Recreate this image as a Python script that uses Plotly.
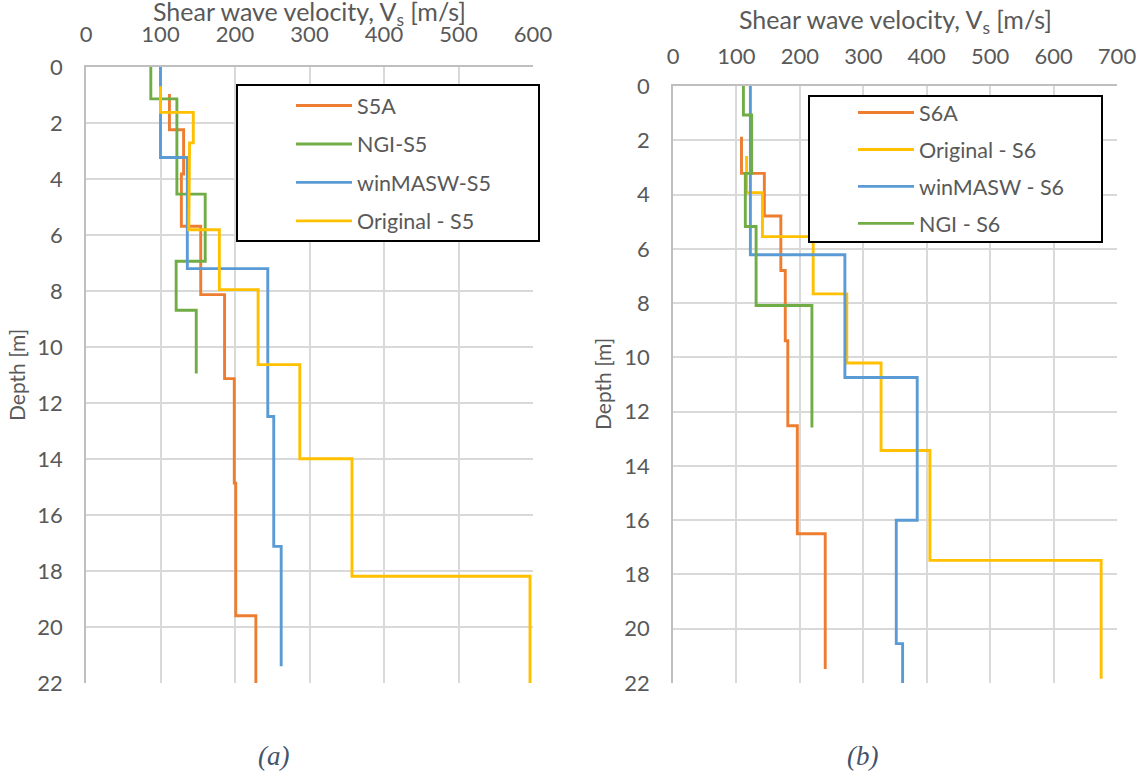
import plotly.graph_objects as go

# ---------------- data (layer top, layer bottom, velocity) ----------------
# Panel (a)
s5a_top = [0.96, 2.24, 3.82, 5.69, 8.13, 11.13, 14.86, 19.6]
s5a_bot = [2.24, 3.82, 5.69, 8.13, 11.13, 14.86, 19.6, 22.0]
s5a_vs = [112, 131, 128, 154, 186, 199, 201, 228]

ngi5_top = [0.0, 1.14, 4.54, 6.94, 8.69]
ngi5_bot = [1.14, 4.54, 6.94, 8.69, 10.95]
ngi5_vs = [87, 122, 160, 121, 148]

win5_top = [0.0, 3.23, 7.2, 12.48, 17.12]
win5_bot = [3.23, 7.2, 12.48, 17.12, 21.4]
win5_vs = [100, 136, 244, 252, 262]

orig5_top = [0.69, 1.62, 2.71, 4.11, 5.81, 7.95, 10.63, 13.99, 18.19]
orig5_bot = [1.62, 2.71, 4.11, 5.81, 7.95, 10.63, 13.99, 18.19, 22.0]
orig5_vs = [100, 144, 139, 138, 179, 231, 287, 357, 596]

# Panel (b)
s6a_top = [1.87, 3.22, 4.79, 6.8, 9.39, 12.52, 16.5]
s6a_bot = [3.22, 4.79, 6.8, 9.39, 12.52, 16.5, 21.48]
s6a_vs = [108, 144, 170, 177, 181, 196, 240]

orig6_top = [2.58, 3.93, 5.55, 7.66, 10.21, 13.43, 17.48]
orig6_bot = [3.93, 5.55, 7.66, 10.21, 13.43, 17.48, 21.84]
orig6_vs = [116, 141, 221, 274, 328, 405, 675]

win6_top = [0.0, 6.22, 10.74, 16.0, 20.55]
win6_bot = [6.22, 10.74, 16.0, 20.55, 22.0]
win6_vs = [122, 271, 385, 352, 362]

ngi6_top = [0.0, 1.07, 3.22, 5.18, 8.09]
ngi6_bot = [1.07, 3.22, 5.18, 8.09, 12.58]
ngi6_vs = [111, 124, 114, 131, 219]

x_ticks_a = [0, 100, 200, 300, 400, 500, 600]
x_ticks_b = [0, 100, 200, 300, 400, 500, 600, 700]
depth_ticks = [0, 2, 4, 6, 8, 10, 12, 14, 16, 18, 20, 22]

ORANGE, GREEN, BLUE, YELLOW = "#ED7D31", "#70AD47", "#5B9BD5", "#FFC000"
GREY_TXT = "#595959"
FONT = "Lato, 'Open Sans', sans-serif"
W, H = 1139, 773


def profile(tops, bots, vs):
    xs, ys = [], []
    for t, b, v in zip(tops, bots, vs):
        xs += [v, v]
        ys += [t, b]
    return xs, ys


fig = go.Figure()

series_a = [
    ("S5A", s5a_top, s5a_bot, s5a_vs, ORANGE),
    ("NGI-S5", ngi5_top, ngi5_bot, ngi5_vs, GREEN),
    ("winMASW-S5", win5_top, win5_bot, win5_vs, BLUE),
    ("Original - S5", orig5_top, orig5_bot, orig5_vs, YELLOW),
]
series_b = [
    ("S6A", s6a_top, s6a_bot, s6a_vs, ORANGE),
    ("Original - S6", orig6_top, orig6_bot, orig6_vs, YELLOW),
    ("winMASW - S6", win6_top, win6_bot, win6_vs, BLUE),
    ("NGI - S6", ngi6_top, ngi6_bot, ngi6_vs, GREEN),
]

for i, (name, t, b, v, c) in enumerate(series_a):
    xs, ys = profile(t, b, v)
    fig.add_trace(go.Scatter(x=xs, y=ys, mode="lines", name=name,
                             line=dict(color=c, width=2.9),
                             xaxis="x", yaxis="y", legend="legend",
                             legendgroup="a%d" % i))
for i, (name, t, b, v, c) in enumerate(series_b):
    xs, ys = profile(t, b, v)
    fig.add_trace(go.Scatter(x=xs, y=ys, mode="lines", name=name,
                             line=dict(color=c, width=2.9),
                             xaxis="x2", yaxis="y2", legend="legend2",
                             legendgroup="b%d" % i))

# plot-area pixel boxes
A = dict(l=86, r=533, t=67, b=683)
B = dict(l=673, r=1117, t=86, b=683)


def dom_x(box):
    return [box["l"] / W, box["r"] / W]


def dom_y(box):
    return [1 - box["b"] / H, 1 - box["t"] / H]


axis_common = dict(showgrid=True, gridcolor="#D9D9D9", gridwidth=1.5,
                   showline=True, linecolor="#BFBFBF", linewidth=1.5,
                   ticks="", zeroline=False, automargin=False,
                   tickfont=dict(family=FONT, size=22, color=GREY_TXT))

fig.update_layout(
    width=W, height=H,
    margin=dict(l=0, r=0, t=0, b=0, autoexpand=False),
    paper_bgcolor="white", plot_bgcolor="white",
    font=dict(family=FONT, color=GREY_TXT),
    xaxis=dict(domain=dom_x(A), anchor="y", side="top", range=[0, 600],
               tickvals=x_ticks_a, ticklabelstandoff=14, **axis_common),
    yaxis=dict(domain=dom_y(A), anchor="x", range=[22, 0],
               tickvals=depth_ticks, ticklabelstandoff=17, **axis_common),
    xaxis2=dict(domain=dom_x(B), anchor="y2", side="top", range=[0, 700],
                tickvals=x_ticks_b, ticklabelstandoff=11, **axis_common),
    yaxis2=dict(domain=dom_y(B), anchor="x2", range=[22, 0],
                tickvals=depth_ticks, ticklabelstandoff=17, **axis_common),
    legend=dict(x=291 / W, y=1 - 85 / H, xanchor="left", yanchor="top",
                bgcolor="rgba(0,0,0,0)", borderwidth=0, itemwidth=56,
                traceorder="grouped", tracegroupgap=7.5,
                font=dict(family=FONT, size=21.5, color=GREY_TXT)),
    legend2=dict(x=853 / W, y=1 - 92 / H, xanchor="left", yanchor="top",
                 bgcolor="rgba(0,0,0,0)", borderwidth=0, itemwidth=56,
                 traceorder="grouped", tracegroupgap=6,
                 font=dict(family=FONT, size=21.5, color=GREY_TXT)),
    showlegend=True,
)

# legend boxes
fig.add_shape(type="rect", xref="paper", yref="paper",
              x0=237 / W, x1=539 / W, y0=1 - 241 / H, y1=1 - 85 / H,
              line=dict(color="black", width=2), fillcolor="white", layer="above")
fig.add_shape(type="rect", xref="paper", yref="paper",
              x0=809 / W, x1=1102 / W, y0=1 - 242 / H, y1=1 - 96 / H,
              line=dict(color="black", width=2), fillcolor="white", layer="above")

ann = [
    dict(x=(A["l"] + A["r"]) / 2 / W, y=1 - 13 / H, text="Shear wave velocity, V<sub>s</sub> [m/s]",
         font=dict(family=FONT, size=25, color=GREY_TXT)),
    dict(x=(B["l"] + B["r"]) / 2 / W, y=1 - 21 / H, text="Shear wave velocity, V<sub>s</sub> [m/s]",
         font=dict(family=FONT, size=25, color=GREY_TXT)),
    dict(x=16 / W, y=1 - 375 / H, text="Depth [m]", textangle=-90,
         font=dict(family=FONT, size=21, color=GREY_TXT)),
    dict(x=603 / W, y=1 - 384 / H, text="Depth [m]", textangle=-90,
         font=dict(family=FONT, size=21, color=GREY_TXT)),
    dict(x=273 / W, y=1 - 756 / H, text="<i>(a)</i>",
         font=dict(family="Liberation Serif, serif", size=27, color="#44546A")),
    dict(x=862 / W, y=1 - 756 / H, text="<i>(b)</i>",
         font=dict(family="Liberation Serif, serif", size=27, color="#44546A")),
]
for a in ann:
    fig.add_annotation(xref="paper", yref="paper", showarrow=False,
                       xanchor="center", yanchor="middle", **a)

fig.write_html("out.html", config={"displayModeBar": False},
               post_script="document.body.style.margin='0px';document.body.style.overflow='hidden';")
